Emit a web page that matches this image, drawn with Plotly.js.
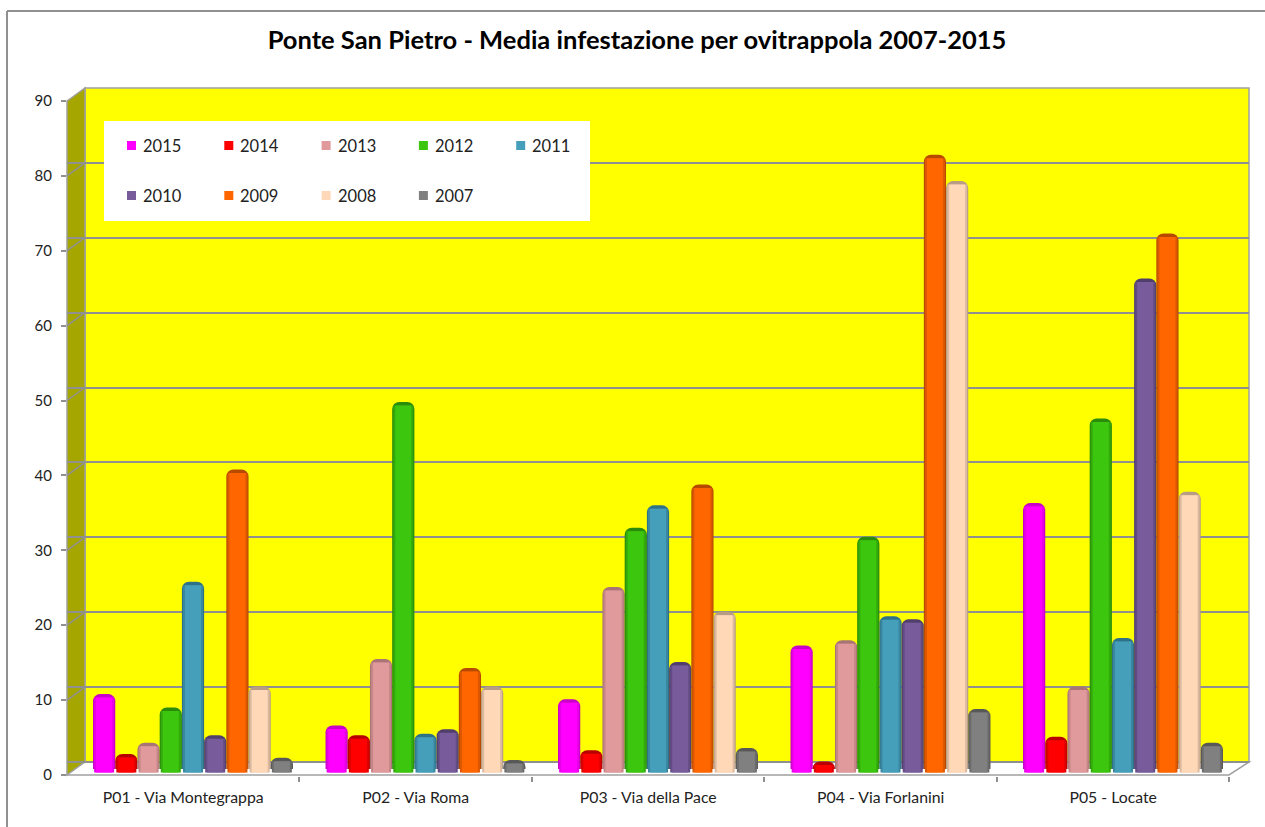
<!DOCTYPE html>
<html><head><meta charset="utf-8">
<script src="https://cdn.plot.ly/plotly-3.0.1.min.js"></script>
<style>html,body{margin:0;padding:0;background:#fff}#c{width:1265px;height:827px}</style>
</head><body><div id="c"></div>
<script>
const categories = ["P01 - Via Montegrappa","P02 - Via Roma","P03 - Via della Pace","P04 - Via Forlanini","P05 - Locate"];
const years = ["2015","2014","2013","2012","2011","2010","2009","2008","2007"];
const colors = ["#FF00FF","#FF0000","#E09A9C","#3DC60E","#459FBA","#775B9B","#FF6600","#FFD8B8","#808080"];
const mids   = ["#E600E6","#DC0000","#C68688","#33AA0C","#3A87A0","#634C84","#DC5800","#DCBAA0","#6C6C6C"];
const darks  = ["#C800C8","#B80000","#A87476","#2A8C0A","#2E7288","#503E6C","#B84A00","#B89C84","#585858"];
const v2015 = [10, 5.8, 9.3, 16.5, 35.5];
const v2014 = [2, 4.5, 2.5, 1, 4.3];
const v2013 = [3.5, 14.7, 24.3, 17.2, 11];
const v2012 = [8.2, 49, 32.2, 31, 46.8];
const v2011 = [25, 4.7, 35.2, 20.4, 17.5];
const v2010 = [4.5, 5.3, 14.3, 20, 65.5];
const v2009 = [40, 13.5, 38, 82, 71.5];
const v2008 = [11, 11, 21, 78.5, 37];
const v2007 = [1.5, 1.2, 2.8, 8, 3.5];
const seriesValues = [v2015,v2014,v2013,v2012,v2011,v2010,v2009,v2008,v2007];
const yTicks = [0,10,20,30,40,50,60,70,80,90];

const W=1265,H=827;
const L=67,R=1249,T=88,B=776;
const PXU=7.49;
const PITCH=232.5;
const px=(x)=>(x-L)/(R-L), py=(y)=>(B-y)/(B-T);
const yRange=(zeroPx)=>[(zeroPx-B)/PXU,(zeroPx-T)/PXU];
const xRange=(c0)=>[(L-c0)/PITCH,(R-c0)/PITCH];

const FONT='Lato, "Open Sans", sans-serif';
const traces=[
  {type:'scatter',mode:'none',x:categories,y:v2015,xaxis:'x',yaxis:'y',showlegend:false,hoverinfo:'skip'},
  {type:'scatter',mode:'none',x:categories,y:v2015,xaxis:'x',yaxis:'y3',showlegend:false,hoverinfo:'skip'}
];
const barW=0.0955;
years.forEach((name,i)=>{
  traces.push({type:'bar',name,x:categories,y:seriesValues[i],xaxis:'x2',yaxis:'y2',
    marker:{color:darks[i],cornerradius:7,line:{width:0}},width:barW,showlegend:false,hoverinfo:'x+y+name'});
});
years.forEach((name,i)=>{
  traces.push({type:'bar',name,x:categories,y:seriesValues[i],xaxis:'x2',yaxis:'y4',
    marker:{color:mids[i],line:{width:0}},width:barW*0.9,showlegend:false,hoverinfo:'skip'});
});
years.forEach((name,i)=>{
  traces.push({type:'bar',name,x:categories,y:seriesValues[i],xaxis:'x2',yaxis:'y5',
    marker:{color:colors[i],line:{width:0}},width:barW*0.72,showlegend:false,hoverinfo:'skip'});
});

const poly=(pts,fill,line)=>({type:'path',xref:'paper',yref:'paper',layer:'below',
  path:'M'+pts.map(p=>px(p[0])+','+py(p[1])).join('L')+'Z',
  fillcolor:fill,line:line?{color:line,width:1.5}:{width:0}});
const seg=(x0,y0,x1,y1,w)=>({type:'line',xref:'paper',yref:'paper',layer:'below',
  x0:px(x0),y0:py(y0),x1:px(x1),y1:py(y1),line:{color:'#909090',width:w||1.5}});

const shapes=[
  poly([[85,T],[R,T],[R,762],[85,762]],'#FFFF00','#A0A0A0'),
  poly([[67,101],[85,T],[85,762],[67,775]],'#A6A600','#A0A0A0'),
  poly([[67,775],[85,762],[R,762],[1229,775]],'#FFFFFF','#A0A0A0'),
  seg(7,11,1265,11,2), seg(7,11,7,827,2)
];
yTicks.forEach(t=>{ if(t>0&&t<90) shapes.push(seg(67,775-t*PXU,85,762-t*PXU)); });

const annotations=[];
const LEG={x:104,y:121,w:486,h:100,dx:97.3,dy:50,x0:128,y0:145};
shapes.push({type:'rect',xref:'paper',yref:'paper',layer:'above',
  x0:px(LEG.x),x1:px(LEG.x+LEG.w),y0:py(LEG.y+LEG.h),y1:py(LEG.y),fillcolor:'#fff',line:{width:0}});
years.forEach((name,i)=>{
  const cx=LEG.x0+(i%5)*LEG.dx, cy=LEG.y0+Math.floor(i/5)*LEG.dy;
  shapes.push({type:'rect',xref:'paper',yref:'paper',layer:'above',
    x0:px(cx-1),x1:px(cx+8),y0:py(cy+5),y1:py(cy-4),fillcolor:colors[i],line:{width:0}});
  annotations.push({xref:'paper',yref:'paper',x:px(cx+13),y:py(cy+1),xanchor:'left',yanchor:'middle',
    text:name,showarrow:false,font:{family:FONT,size:16.5,color:'#222'}});
});

const layout={
  width:W,height:H,autosize:false,showlegend:false,
  paper_bgcolor:'#fff',plot_bgcolor:'rgba(0,0,0,0)',
  margin:{l:L,r:W-R,t:T,b:H-B,pad:0},
  barmode:'group',bargap:0.14,bargroupgap:0,
  title:{text:'<b>Ponte San Pietro - Media infestazione per ovitrappola 2007-2015</b>',
    x:637/W,xanchor:'center',y:1-40/H,yanchor:'middle',font:{family:FONT,size:25.5,color:'#000'}},
  font:{family:FONT,size:15,color:'#222'},
  xaxis:{type:'category',categoryorder:'array',categoryarray:categories,range:xRange(183.2),
    tickson:'boundaries',ticks:'outside',ticklen:5,tickcolor:'#909090',tickwidth:1.5,
    showgrid:false,zeroline:false,showline:false,tickfont:{family:FONT,size:15.8,color:'#222'},
    anchor:'y',tickangle:0,ticklabelstandoff:10},
  yaxis:{range:yRange(775),tickvals:yTicks,ticks:'outside',ticklen:5,tickcolor:'#909090',tickwidth:1.5,
    showgrid:false,zeroline:false,showline:false,tickfont:{family:FONT,size:15,color:'#222'},anchor:'x',ticklabelstandoff:6},
  xaxis2:{type:'category',categoryorder:'array',categoryarray:categories,overlaying:'x',range:xRange(193),
    visible:false,anchor:'y2'},
  yaxis2:{overlaying:'y',range:yRange(769),visible:false,anchor:'x2'},
  yaxis3:{overlaying:'y',range:yRange(762),tickvals:yTicks,showgrid:true,gridcolor:'#909090',gridwidth:1.5,
    zeroline:false,showticklabels:false,ticks:'',showline:false,anchor:'x'},
  yaxis4:{overlaying:'y',range:yRange(772.5),visible:false,anchor:'x2'},
  yaxis5:{overlaying:'y',range:yRange(772.5),visible:false,anchor:'x2'},
  shapes,annotations
};
Plotly.newPlot('c',traces,layout,{displayModeBar:false,responsive:false});
</script></body></html>
